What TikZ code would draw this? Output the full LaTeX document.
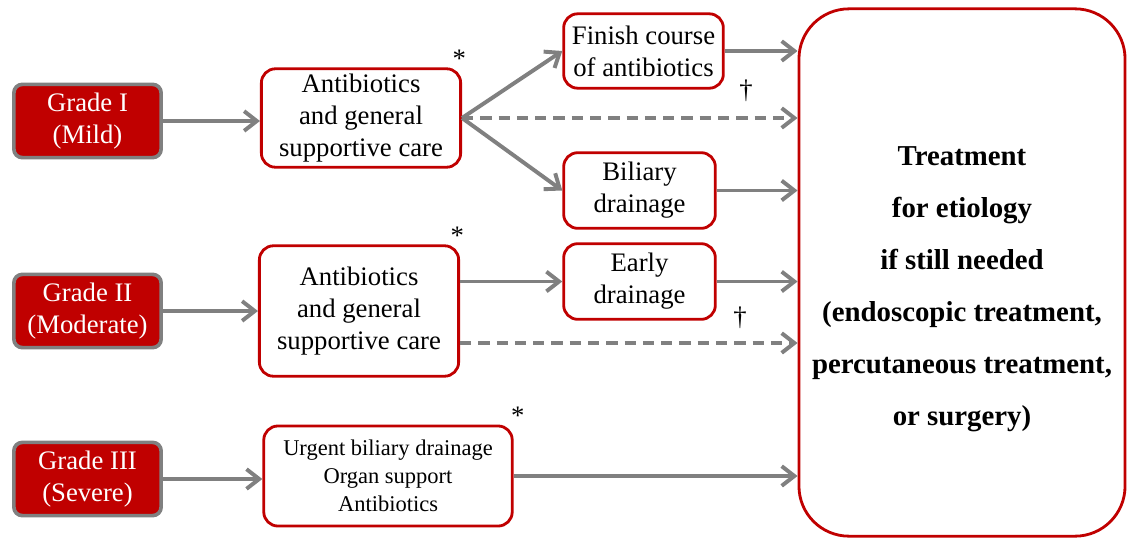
\documentclass[tikz,border=0pt]{standalone}
\usepackage{fontspec}
\setmainfont{Liberation Serif}
\usetikzlibrary{arrows.meta, positioning}
\definecolor{gradered}{HTML}{C00000}
\definecolor{arrowgray}{HTML}{808080}

\begin{document}
\begin{tikzpicture}[x=0.025cm, y=-0.025cm]
      \tikzstyle{grade}=[rectangle, rounded corners=6pt, draw=arrowgray, line width=2.6pt, fill=gradered, text=white, align=center, minimum width=3.68cm, minimum height=1.83cm, font=\fontsize{19}{22.5}\selectfont]
      \tikzstyle{carebox}=[rectangle, rounded corners=10pt, draw=gradered, line width=2pt, fill=white, align=center, inner sep=2pt, font=\fontsize{19}{22.8}\selectfont]
      \tikzstyle{flow}=[draw=arrowgray, line width=2.8pt, -{Straight Barb[length=9pt, width=14pt]}]
      \tikzstyle{maybe}=[flow, dash pattern=on 8pt off 5pt]
      \tikzstyle{note}=[inner sep=0pt, font=\fontsize{19}{22}\selectfont]
      \useasboundingbox (0,0) rectangle (1128,540);
      \node[grade] (g1) at (87.5,121) {Grade I\\(Mild)};
      \node[grade] (g2) at (87.5,311) {Grade II\\(Moderate)};
      \node[grade] (g3) at (87.5,479) {Grade III\\(Severe)};
      \node[carebox, minimum width=4.98cm, minimum height=2.46cm] (a1) at (361,118) {Antibiotics\\and general\\supportive care};
      \node[carebox, minimum width=4.98cm, minimum height=3.26cm] (a2) at (359,311) {Antibiotics\\and general\\supportive care};
      \node[carebox, minimum width=6.21cm, minimum height=2.5cm, font=\fontsize{16}{20}\selectfont] (u3) at (388,476) {Urgent biliary drainage\\Organ support\\Antibiotics};
      \node[carebox, minimum width=3.99cm, minimum height=1.86cm] (fin) at (643.5,51) {Finish course\\of antibiotics};
      \node[carebox, minimum width=3.79cm, minimum height=1.89cm] (bil) at (639.5,190.5) {Biliary\\drainage};
      \node[carebox, minimum width=3.79cm, minimum height=1.89cm] (early) at (639.5,281.5) {Early\\drainage};
      \node[carebox, rounded corners=1.25cm, minimum width=8.15cm, minimum height=13.18cm] (tr) at (962,272.5) {};
      \node[align=center, font=\bfseries\fontsize{20.5}{37}\selectfont] (trtext) at ([yshift=-12pt]tr.center) {Treatment\\for etiology\\if still needed\\(endoscopic treatment,\\percutaneous treatment,\\or surgery)};
      \node[note, above=0cm of a1.north east, xshift=-2pt] (s1) {*};
      \node[note, above=0cm of a2.north east, xshift=-2pt] (s2) {*};
      \node[note, above=0cm of u3.north east, xshift=3pt] (s3) {*};
      \node[note] (t1) at (746,91) {\textdagger};
      \node[note] (t2) at (740,318) {\textdagger};
      \draw[flow] (g1.east) -- (g1.east -| a1.west);
      \draw[flow] (g2.east) -- (g2.east -| a2.west);
      \draw[flow] (g3.east) -- (g3.east -| u3.west);
      \draw[flow] (a1.east) -- (fin.west);
      \draw[flow] (a1.east) -- (bil.west);
      \draw[maybe] (a1.east) -- (a1.east -| tr.west);
      \draw[flow] (fin.east) -- (fin.east -| tr.west);
      \draw[flow] (bil.east) -- (bil.east -| tr.west);
      \draw[flow] (a2.east |- early.west) -- (early.west);
      \draw[flow] (early.east) -- (early.east -| tr.west);
      \draw[maybe] ([yshift=-0.8cm]a2.east) -- ([yshift=-0.8cm]a2.east -| tr.west);
      \draw[flow] (u3.east) -- (u3.east -| tr.west);
\end{tikzpicture}
\end{document}
